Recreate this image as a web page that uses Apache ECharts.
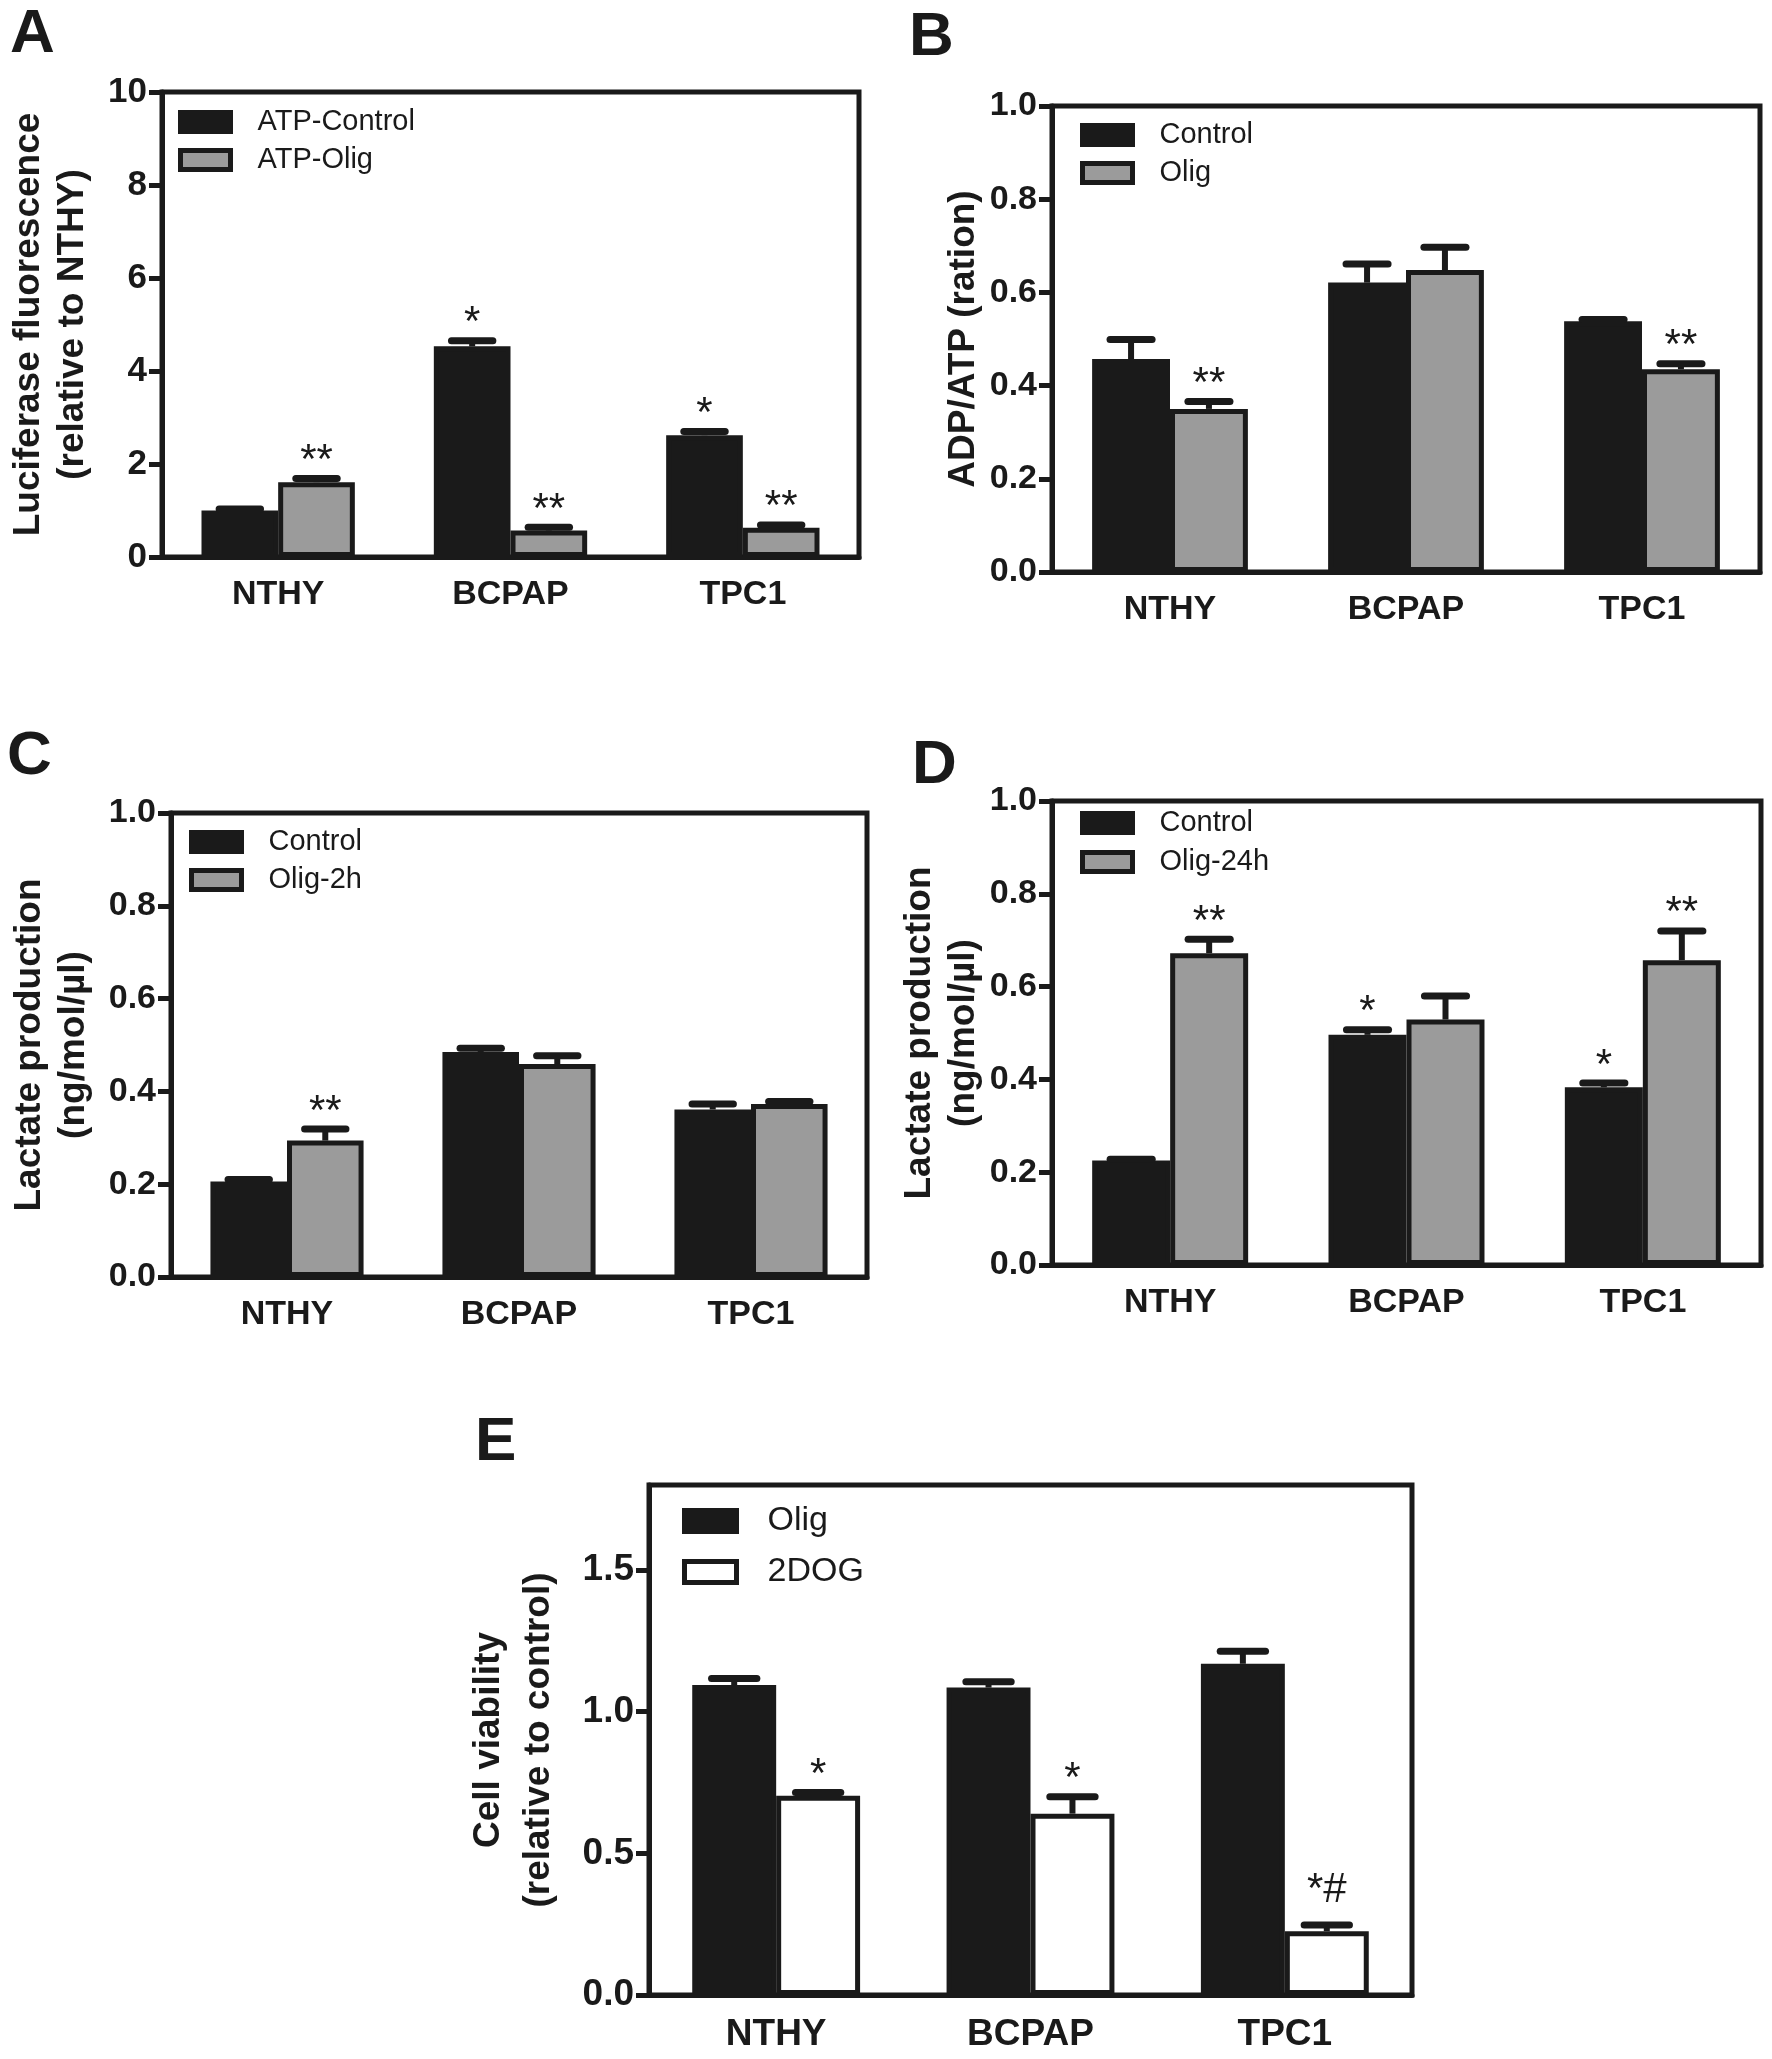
<!DOCTYPE html>
<html>
<head>
<meta charset="utf-8">
<script src="https://cdn.jsdelivr.net/npm/echarts@6/dist/echarts.min.js"></script>
<style>
html,body{margin:0;padding:0;background:#ffffff;}
#chart{width:1772px;height:2059px;}
</style>
</head>
<body>
<div id="chart"></div>
<script>
// ---------------- DATA ----------------
const categories = ['NTHY', 'BCPAP', 'TPC1'];

// Panel A
const aNames = ['ATP-Control', 'ATP-Olig'];
const aControl = [1.0, 4.53, 2.62];
const aControlErr = [0.03, 0.12, 0.08];
const aOlig = [1.61, 0.57, 0.63];
const aOligErr = [0.08, 0.07, 0.06];
const aControlStars = ['', '*', '*'];
const aOligStars = ['**', '**', '**'];
const aTicks = [0, 2, 4, 6, 8, 10];

// Panel B
const bNames = ['Control', 'Olig'];
const bControl = [0.457, 0.621, 0.538];
const bControlErr = [0.042, 0.040, 0.004];
const bOlig = [0.350, 0.648, 0.435];
const bOligErr = [0.016, 0.049, 0.012];
const bControlStars = ['', '', ''];
const bOligStars = ['**', '', '**'];
const bTicks = [0, 0.2, 0.4, 0.6, 0.8, 1.0];

// Panel C
const cNames = ['Control', 'Olig-2h'];
const cControl = [0.206, 0.485, 0.361];
const cControlErr = [0.004, 0.008, 0.012];
const cOlig = [0.294, 0.459, 0.373];
const cOligErr = [0.025, 0.018, 0.005];
const cControlStars = ['', '', ''];
const cOligStars = ['**', '', ''];
const cTicks = [0, 0.2, 0.4, 0.6, 0.8, 1.0];

// Panel D
const dNames = ['Control', 'Olig-24h'];
const dControl = [0.225, 0.496, 0.383];
const dControlErr = [0.003, 0.011, 0.009];
const dOlig = [0.672, 0.529, 0.657];
const dOligErr = [0.030, 0.051, 0.063];
const dControlStars = ['', '*', '*'];
const dOligStars = ['**', '', '**'];
const dTicks = [0, 0.2, 0.4, 0.6, 0.8, 1.0];

// Panel E
const eNames = ['Olig', '2DOG'];
const eOlig = [1.094, 1.085, 1.169];
const eOligErr = [0.023, 0.021, 0.044];
const e2dog = [0.703, 0.640, 0.225];
const e2dogErr = [0.012, 0.060, 0.022];
const eOligStars = ['', '', ''];
const e2dogStars = ['*', '*', '*#'];
const eTicks = [0, 0.5, 1.0, 1.5];

// ---------------- STYLE / LAYOUT ----------------
const FONT = "'Liberation Sans', Arial, Helvetica, sans-serif";
const INK = '#1a1a1a';
const GREY = '#9b9b9b';
const WHITE = '#ffffff';
const GAP = 0.34;

const panels = [
  {
    letter: 'A', letterPos: [10, 4],
    grid: {left: 162, top: 92, width: 697, height: 465},
    max: 10, interval: 2, ticks: aTicks, fmt: v => String(v),
    yName: 'Luciferase fluorescence\n(relative to NTHY)', nameGap: 67, nameLH: 44, nameFont: 37,
    tickFont: 35, catFont: 34,
    legend: {left: 178, top: 107.5, iw: 50, ih: 19, gap: 9, font: 29, pad: 22},
    names: aNames, values: [aControl, aOlig], errs: [aControlErr, aOligErr],
    stars: [aControlStars, aOligStars], colors: [INK, GREY]
  },
  {
    letter: 'B', letterPos: [909, 7],
    grid: {left: 1052, top: 106, width: 708, height: 466},
    max: 1, interval: 0.2, ticks: bTicks, fmt: v => v.toFixed(1),
    yName: 'ADP/ATP (ration)', nameGap: 66, nameLH: 44, nameFont: 37,
    tickFont: 34, catFont: 34,
    legend: {left: 1080, top: 120.5, iw: 50, ih: 19, gap: 9, font: 29, pad: 22},
    names: bNames, values: [bControl, bOlig], errs: [bControlErr, bOligErr],
    stars: [bControlStars, bOligStars], colors: [INK, GREY]
  },
  {
    letter: 'C', letterPos: [7, 726],
    grid: {left: 171, top: 813, width: 696, height: 464},
    max: 1, interval: 0.2, ticks: cTicks, fmt: v => v.toFixed(1),
    yName: 'Lactate production\n(ng/mol/\u00b5l)', nameGap: 75, nameLH: 44, nameFont: 37,
    tickFont: 34, catFont: 34,
    legend: {left: 189, top: 827.5, iw: 50, ih: 19, gap: 9, font: 29, pad: 22},
    names: cNames, values: [cControl, cOlig], errs: [cControlErr, cOligErr],
    stars: [cControlStars, cOligStars], colors: [INK, GREY]
  },
  {
    letter: 'D', letterPos: [912, 735],
    grid: {left: 1052, top: 801, width: 709, height: 464},
    max: 1, interval: 0.2, ticks: dTicks, fmt: v => v.toFixed(1),
    yName: 'Lactate production\n(ng/mol/\u00b5l)', nameGap: 65, nameLH: 44, nameFont: 37,
    tickFont: 34, catFont: 34,
    legend: {left: 1080, top: 808.5, iw: 50, ih: 19, gap: 10, font: 29, pad: 22},
    names: dNames, values: [dControl, dOlig], errs: [dControlErr, dOligErr],
    stars: [dControlStars, dOligStars], colors: [INK, GREY]
  },
  {
    letter: 'E', letterPos: [475, 1412],
    grid: {left: 649, top: 1485, width: 763, height: 510},
    max: 1.8, interval: 0.5, ticks: eTicks, fmt: v => v.toFixed(1),
    yName: 'Cell viability\n(relative to control)', nameGap: 85, nameLH: 50, nameFont: 37,
    tickFont: 37, catFont: 37,
    legend: {left: 682, top: 1504, iw: 52, ih: 21, gap: 17, font: 34, pad: 26},
    names: eNames, values: [eOlig, e2dog], errs: [eOligErr, e2dogErr],
    stars: [eOligStars, e2dogStars], colors: [INK, WHITE]
  }
];

function errRenderer(side, stars) {
  return function (params, api) {
    const ci = api.value(0), v = api.value(1), e = api.value(2);
    const p0 = api.coord([ci, v]);
    const p1 = api.coord([ci, v + e]);
    const band = api.size([1, 0])[0];
    const bw = band * (1 - GAP) / 2;
    const cx = p0[0] + side * bw / 2;
    const capHalf = bw * 0.27;
    const children = [];
    children.push({type: 'line', shape: {x1: cx, y1: p0[1], x2: cx, y2: p1[1]},
      style: {stroke: INK, lineWidth: 6}});
    children.push({type: 'line', shape: {x1: cx - capHalf, y1: p1[1], x2: cx + capHalf, y2: p1[1]},
      style: {stroke: INK, lineWidth: 7, lineCap: 'round'}});
    const s = stars[params.dataIndex];
    if (s) {
      const lift = s.indexOf('#') >= 0 ? 18 : 0;
      children.push({type: 'text', x: cx, y: p1[1] + 4 - lift,
        style: {text: s, font: '42px ' + FONT, fill: INK, align: 'center', verticalAlign: 'bottom'}});
    }
    return {type: 'group', children: children};
  };
}

const option = {
  backgroundColor: '#ffffff',
  animation: false,
  grid: [], xAxis: [], yAxis: [], series: [], legend: [], graphic: []
};

panels.forEach(function (p, k) {
  option.grid.push(Object.assign({show: true, borderColor: INK, borderWidth: 5,
    backgroundColor: 'transparent', containLabel: false}, p.grid));
  option.xAxis.push({
    gridIndex: k, type: 'category', data: categories,
    axisLine: {lineStyle: {color: INK, width: 5}},
    axisTick: {alignWithLabel: true, length: 14, lineStyle: {color: INK, width: 5}},
    axisLabel: {fontSize: p.catFont, fontWeight: 'bold', color: INK, fontFamily: FONT, margin: 21}
  });
  option.yAxis.push({
    gridIndex: k, type: 'value', min: 0, max: p.max, interval: p.interval,
    splitLine: {show: false},
    axisLine: {show: true, lineStyle: {color: INK, width: 5}},
    axisTick: {show: true, length: 13, lineStyle: {color: INK, width: 5}, customValues: p.ticks},
    axisLabel: {fontSize: p.tickFont, fontWeight: 'bold', color: INK, fontFamily: FONT, margin: 15,
      customValues: p.ticks,
      formatter: function (v) { return v > p.ticks[p.ticks.length - 1] + 1e-9 ? '' : p.fmt(v); }},
    name: p.yName, nameLocation: 'middle', nameGap: p.nameGap,
    nameTextStyle: {fontSize: p.nameFont, fontWeight: 'bold', color: INK, fontFamily: FONT, lineHeight: p.nameLH}
  });
  [0, 1].forEach(function (j) {
    option.series.push({
      type: 'bar', name: p.names[j], xAxisIndex: k, yAxisIndex: k,
      data: p.values[j], barGap: '0%', barCategoryGap: (GAP * 100) + '%',
      itemStyle: {color: p.colors[j], borderColor: INK, borderWidth: 5},
      emphasis: {disabled: true}
    });
  });
  [0, 1].forEach(function (j) {
    option.series.push({
      type: 'custom', xAxisIndex: k, yAxisIndex: k, z: 5,
      data: categories.map(function (c, i) { return [i, p.values[j][i], p.errs[j][i]]; }),
      renderItem: errRenderer(j === 0 ? -1 : 1, p.stars[j])
    });
  });
  const L = p.legend;
  option.legend.push({
    orient: 'vertical', left: L.left, top: L.top, padding: 0,
    itemWidth: L.iw, itemHeight: L.ih, itemGap: L.gap, icon: 'rect',
    itemStyle: {borderColor: INK, borderWidth: 5},
    formatter: '{t|{name}}',
    textStyle: {color: INK, fontSize: L.font, fontFamily: FONT,
      rich: {t: {fontSize: L.font, fontFamily: FONT, color: INK, padding: [0, 0, 0, L.pad]}}},
    selectedMode: false,
    data: p.names.map(function (n, j) { return {name: n, itemStyle: {color: p.colors[j], borderColor: INK, borderWidth: 5}}; })
  });
  option.graphic.push({
    type: 'text', left: p.letterPos[0], top: p.letterPos[1],
    style: {text: p.letter, font: 'bold 62px ' + FONT, fill: INK}
  });
});

const chart = echarts.init(document.getElementById('chart'), null, {renderer: 'canvas'});
chart.setOption(option);
</script>
</body>
</html>
